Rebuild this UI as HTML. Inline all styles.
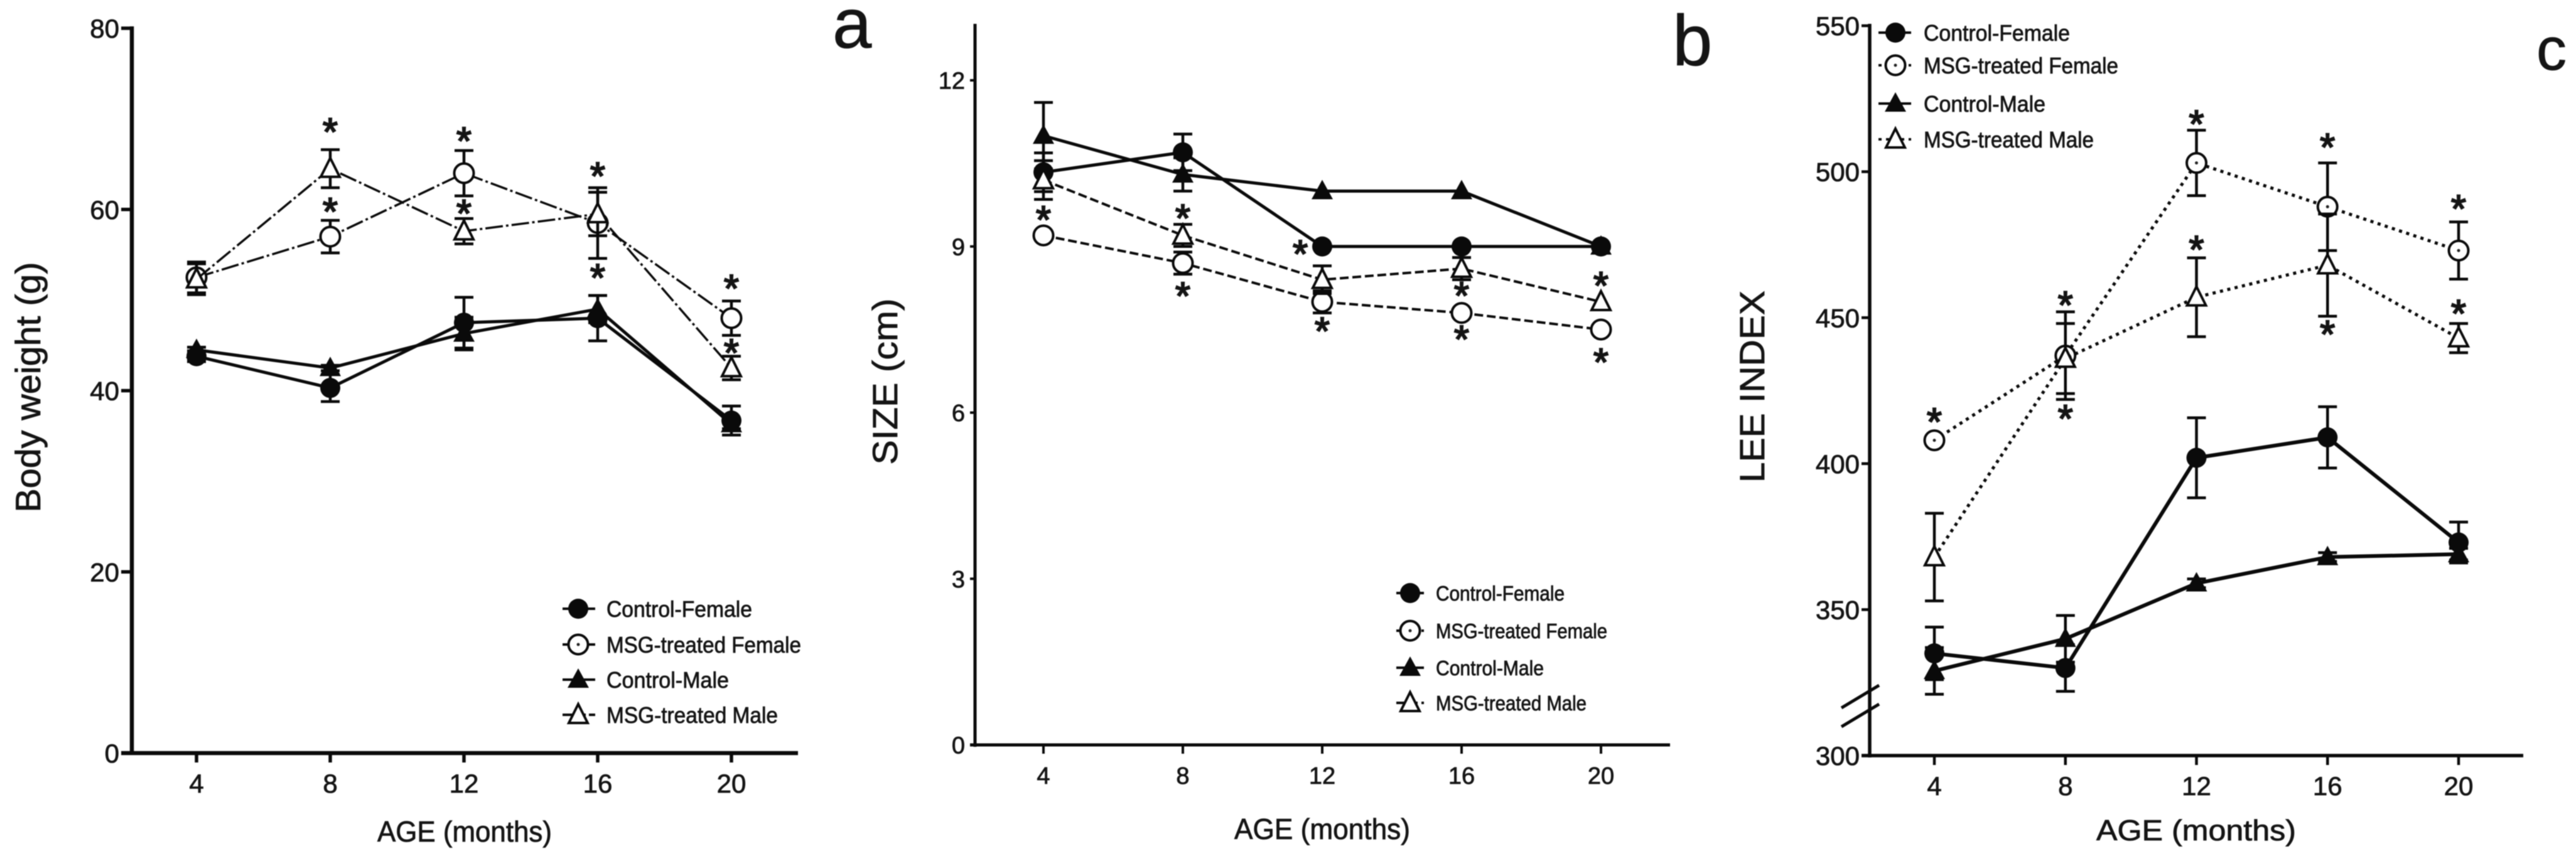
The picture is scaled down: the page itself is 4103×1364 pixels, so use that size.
<!DOCTYPE html>
<html lang="en">
<head>
<meta charset="utf-8">
<title>Body weight, size and Lee index by age</title>
<style>
html,body{margin:0;padding:0;background:#fff;}
#figure{display:block;width:4103px;height:1364px;background:#fff;filter:blur(0.9px);}
text{font-family:"Liberation Sans",Arial,sans-serif;fill:#141414;stroke:#141414;stroke-width:0.8px;}
</style>
</head>
<body>
<svg id="figure" xmlns="http://www.w3.org/2000/svg" width="4103" height="1364" viewBox="0 0 4103 1364"></svg>
<script>
const months = [4, 8, 12, 16, 20];
const seriesNames = ['Control-Female', 'MSG-treated Female', 'Control-Male', 'MSG-treated Male'];

const weightTicks = [0, 20, 40, 60, 80];
const weightControlFemale = [43.8, 40.3, 47.5, 48, 36.7];
const weightControlFemaleErr = [0.6, 1.5, 2.8, 2.5, 1.6];
const weightMsgFemale = [52.5, 57, 64, 58.5, 48];
const weightMsgFemaleErr = [1.7, 1.8, 2.5, 3.9, 1.9];
const weightControlMale = [44.5, 42.5, 46.3, 49, 36.3];
const weightControlMaleErr = [0.3, 0.3, 1.8, 1.5, 0.5];
const weightMsgMale = [52.3, 64.5, 57.6, 59.5, 42.5];
const weightMsgMaleErr = [1.7, 2.1, 1.4, 2.4, 1.3];
const weightStarMonths = [8, 8, 12, 12, 16, 16, 20, 20];
const weightStarValues = [69.1, 60.3, 68.1, 60.1, 64.2, 53, 51.8, 44.7];

const sizeTicks = [0, 3, 6, 9, 12];
const sizeControlFemale = [10.34, 10.7, 9, 9, 9];
const sizeControlFemaleErr = [0.35, 0.33, 0, 0, 0];
const sizeMsgFemale = [9.2, 8.7, 8, 7.8, 7.5];
const sizeMsgFemaleErr = [0, 0.2, 0.2, 0, 0];
const sizeControlMale = [11, 10.3, 10, 10, 9];
const sizeControlMaleErr = [0.6, 0.3, 0, 0, 0];
const sizeMsgMale = [10.2, 9.2, 8.4, 8.6, 8];
const sizeMsgMaleErr = [0.35, 0.2, 0.25, 0.2, 0];
const sizeStarMonths = [4, 8, 8, 11.37, 12, 16, 16, 20, 20];
const sizeStarValues = [9.57, 9.6, 8.19, 8.95, 7.56, 8.2, 7.41, 8.38, 7];

const leeTicks = [300, 350, 400, 450, 500, 550];
const leeControlFemale = [335, 330, 402, 409, 373];
const leeControlFemaleErr = [9, 8, 13.7, 10.5, 7];
const leeMsgFemale = [408, 437, 503, 488, 473];
const leeMsgFemaleErr = [1, 15, 11.2, 15, 9.8];
const leeControlMale = [329, 340, 359, 368, 369];
const leeControlMaleErr = [8, 8, 1.5, 1.5, 2];
const leeMsgMale = [368, 436, 457, 468, 443];
const leeMsgMaleErr = [15, 12, 13.5, 17.5, 5];
const leeStarMonths = [4, 8, 8, 12, 12, 16, 16, 20, 20];
const leeStarValues = [416, 456, 417, 518, 475, 510, 446, 489, 453];

const SVG_NS = 'http://www.w3.org/2000/svg';
const root = document.getElementById('figure');

function make(parent, tag, attrs, content) {
  const el = document.createElementNS(SVG_NS, tag);
  for (const k in attrs) el.setAttribute(k, attrs[k]);
  if (content !== undefined) el.textContent = content;
  parent.appendChild(el);
  return el;
}
function kebab(s) {
  return s.toLowerCase().replace(/[^a-z0-9]+/g, '-');
}

const panels = [
  {
    id: 'weight', letter: 'a', letterX: 1326, letterY: 76, letterSize: 112,
    xAt4: 313, xAt20: 1165, axisX: 210, axisTop: 45, axisRight: 1271, axisWidth: 6.5,
    yBase: 1200, yRef: 45, vBase: 0, vRef: 80,
    yTicks: weightTicks, tickSize: 42, tickRight: 190, tickLeft: 193, xTickBase: 1263, xTickLen: 15,
    yTitle: 'Body weight (g)', yTitleX: 64, yTitleY: 617, yTitleLen: 399,
    xTitleX: 740, xTitleY: 1341, xTitleLen: 278,
    values: [weightControlFemale, weightMsgFemale, weightControlMale, weightMsgMale],
    errors: [weightControlFemaleErr, weightMsgFemaleErr, weightControlMaleErr, weightMsgMaleErr],
    starMonths: weightStarMonths, starValues: weightStarValues,
    dash: '28 5 4 5', openWidth: 3.5, solidWidth: 5, centerDot: false,
    legendMarkerX: 921, legendLineL: 896, legendLineR: 948, legendTextX: 966, legendSize: 36,
    legendY: [970, 1027, 1083, 1139], legendW: [232, 310, 195, 273]
  },
  {
    id: 'size', letter: 'b', letterX: 2664, letterY: 104, letterSize: 114,
    xAt4: 1662, xAt20: 2550, axisX: 1553, axisTop: 41, axisRight: 2660, axisWidth: 5,
    yBase: 1187, yRef: 128, vBase: 0, vRef: 12,
    yTicks: sizeTicks, tickSize: 38, tickRight: 1537, tickLeft: 1545, xTickBase: 1249, xTickLen: 14,
    yTitle: 'SIZE (cm)', yTitleX: 1429, yTitleY: 608, yTitleLen: 265,
    xTitleX: 2106, xTitleY: 1337, xTitleLen: 280,
    values: [sizeControlFemale, sizeMsgFemale, sizeControlMale, sizeMsgMale],
    errors: [sizeControlFemaleErr, sizeMsgFemaleErr, sizeControlMaleErr, sizeMsgMaleErr],
    starMonths: sizeStarMonths, starValues: sizeStarValues,
    dash: '14 6', openWidth: 4, solidWidth: 5, centerDot: false,
    legendMarkerX: 2246, legendLineL: 2224, legendLineR: 2268, legendTextX: 2287, legendSize: 33,
    legendY: [945, 1005, 1064, 1120], legendW: [205, 273, 172, 240]
  },
  {
    id: 'lee', letter: 'c', letterX: 4040, letterY: 111, letterSize: 96,
    xAt4: 3081, xAt20: 3916, axisX: 2978, axisTop: 41, axisRight: 4019, axisWidth: 5.5,
    yBase: 1204, yRef: 41, vBase: 300, vRef: 550,
    yTicks: leeTicks, tickSize: 42, tickRight: 2962, tickLeft: 2965, xTickBase: 1267, xTickLen: 15,
    yTitle: 'LEE INDEX', yTitleX: 2810, yTitleY: 616, yTitleLen: 306,
    xTitleX: 3498, xTitleY: 1339, xTitleLen: 318,
    values: [leeControlFemale, leeMsgFemale, leeControlMale, leeMsgMale],
    errors: [leeControlFemaleErr, leeMsgFemaleErr, leeControlMaleErr, leeMsgMaleErr],
    starMonths: leeStarMonths, starValues: leeStarValues,
    dash: '5 7', openWidth: 5, solidWidth: 6, centerDot: true, axisBreak: true,
    legendMarkerX: 3019, legendLineL: 2992, legendLineR: 3044, legendTextX: 3064, legendSize: 36,
    legendY: [52, 104, 165, 222], legendW: [233, 310, 194, 271]
  }
];

function drawMarker(g, kind, cx, cy, centerDot) {
  let el;
  if (kind === 0) {
    el = make(g, 'circle', { cx: cx, cy: cy, r: 16, fill: '#0a0a0a' });
  } else if (kind === 1) {
    el = make(g, 'circle', { cx: cx, cy: cy, r: 15.5, fill: '#fff', stroke: '#0a0a0a', 'stroke-width': 4 });
    if (centerDot) {
      make(g, 'circle', { cx: cx, cy: cy, r: 2.5, fill: '#222' });
    }
  } else if (kind === 2) {
    el = make(g, 'path', { d: 'M' + cx + ' ' + (cy - 18) + 'L' + (cx + 17) + ' ' + (cy + 13) + 'L' + (cx - 17) + ' ' + (cy + 13) + 'Z', fill: '#0a0a0a' });
  } else {
    el = make(g, 'path', { d: 'M' + cx + ' ' + (cy - 17) + 'L' + (cx + 15) + ' ' + (cy + 13) + 'L' + (cx - 15) + ' ' + (cy + 13) + 'Z', fill: '#fff', stroke: '#0a0a0a', 'stroke-width': 4 });
  }
  return el;
}

panels.forEach(function (p) {
  const xScale = function (m) { return p.xAt4 + (m - 4) * (p.xAt20 - p.xAt4) / 16; };
  const yScale = function (v) { return p.yBase - (v - p.vBase) * (p.yBase - p.yRef) / (p.vRef - p.vBase); };

  const panel = make(root, 'g', {});
  
  

  const axisAttrs = { stroke: '#0a0a0a', 'stroke-width': p.axisWidth, fill: 'none' };

  const yAxis = make(panel, 'line', Object.assign({ x1: p.axisX, y1: p.axisTop - 3, x2: p.axisX, y2: p.yBase + 3 }, axisAttrs));
  
  

  const xAxis = make(panel, 'line', Object.assign({ x1: p.tickLeft, y1: p.yBase, x2: p.axisRight, y2: p.yBase }, axisAttrs));
  
  

  if (p.axisBreak) {
    const breakUpper = make(panel, 'line', { x1: p.axisX - 45, y1: 1128, x2: p.axisX + 15, y2: 1092, stroke: '#0a0a0a', 'stroke-width': 5 });
    
    
    const breakLower = make(panel, 'line', { x1: p.axisX - 45, y1: 1158, x2: p.axisX + 15, y2: 1122, stroke: '#0a0a0a', 'stroke-width': 5 });
    
    
  }

  p.yTicks.forEach(function (v) {
    const y = yScale(v);
    const tick = make(panel, 'line', { x1: p.tickLeft, y1: y, x2: p.axisX, y2: y, stroke: '#0a0a0a', 'stroke-width': p.axisWidth - 1 });
    
    
    const label = make(panel, 'text', { x: p.tickRight, y: y + p.tickSize * 0.36, 'text-anchor': 'end', 'font-size': p.tickSize }, String(v));
    
    
  });

  months.forEach(function (m) {
    const x = xScale(m);
    const tick = make(panel, 'line', { x1: x, y1: p.yBase, x2: x, y2: p.yBase + p.xTickLen, stroke: '#0a0a0a', 'stroke-width': p.axisWidth - 1 });
    
    
    const label = make(panel, 'text', { x: x, y: p.xTickBase, 'text-anchor': 'middle', 'font-size': p.tickSize }, String(m));
    
    
  });

  const yTitle = make(panel, 'text', {
    x: 0, y: 0, 'text-anchor': 'middle', 'font-size': 56,
    transform: 'translate(' + p.yTitleX + ' ' + p.yTitleY + ') rotate(-90)',
    textLength: p.yTitleLen, lengthAdjust: 'spacingAndGlyphs'
  }, p.yTitle);
  
  

  const xTitle = make(panel, 'text', {
    x: p.xTitleX, y: p.xTitleY, 'text-anchor': 'middle', 'font-size': 46,
    textLength: p.xTitleLen, lengthAdjust: 'spacingAndGlyphs'
  }, 'AGE (months)');
  
  

  const letter = make(panel, 'text', { x: p.letterX, y: p.letterY, 'font-size': p.letterSize }, p.letter);
  
  

  p.values.forEach(function (vals, s) {
    const isOpen = s % 2 === 1;
    const group = make(panel, 'g', {});
    
    

    vals.forEach(function (v, i) {
      const err = p.errors[s][i];
      if (err <= 0) return;
      const x = xScale(months[i]);
      const yHi = yScale(v + err);
      const yLo = yScale(v - err);
      const bar = make(group, 'path', {
        d: 'M' + (x - 15) + ' ' + yHi + 'H' + (x + 15) + 'M' + x + ' ' + yHi + 'V' + yLo + 'M' + (x - 15) + ' ' + yLo + 'H' + (x + 15),
        stroke: '#0a0a0a', 'stroke-width': 4.5, fill: 'none'
      });
      
      
    });

    const pts = vals.map(function (v, i) { return xScale(months[i]) + ',' + yScale(v); }).join(' ');
    const lineAttrs = { points: pts, fill: 'none', stroke: '#0a0a0a', 'stroke-width': isOpen ? p.openWidth : p.solidWidth, 'stroke-linejoin': 'round' };
    if (isOpen) lineAttrs['stroke-dasharray'] = p.dash;
    const line = make(group, 'polyline', lineAttrs);
    
    

    vals.forEach(function (v, i) {
      const mark = drawMarker(group, s, xScale(months[i]), yScale(v), p.centerDot);
      
      
    });
  });

  p.starValues.forEach(function (v, i) {
    const star = make(panel, 'text', { x: xScale(p.starMonths[i]), y: yScale(v) + 29, 'text-anchor': 'middle', 'font-size': 62, style: 'stroke-width:2.2px' }, '*');
    
    
  });

  const legend = make(panel, 'g', {});
  
  
  seriesNames.forEach(function (name, s) {
    const y = p.legendY[s];
    const entry = make(legend, 'g', {});
    
    
    const sample = make(entry, 'line', { x1: p.legendLineL, y1: y, x2: p.legendLineR, y2: y, stroke: '#0a0a0a', 'stroke-width': 4 });
    if (s % 2 === 1) sample.setAttribute('stroke-dasharray', p.dash);
    
    
    const mark = drawMarker(entry, s, p.legendMarkerX, y, p.centerDot || s === 1);
    
    
    const label = make(entry, 'text', {
      x: p.legendTextX, y: y + p.legendSize * 0.36, 'font-size': p.legendSize,
      textLength: p.legendW[s], lengthAdjust: 'spacingAndGlyphs'
    }, name);
    
    
  });
});
</script>
</body>
</html>
